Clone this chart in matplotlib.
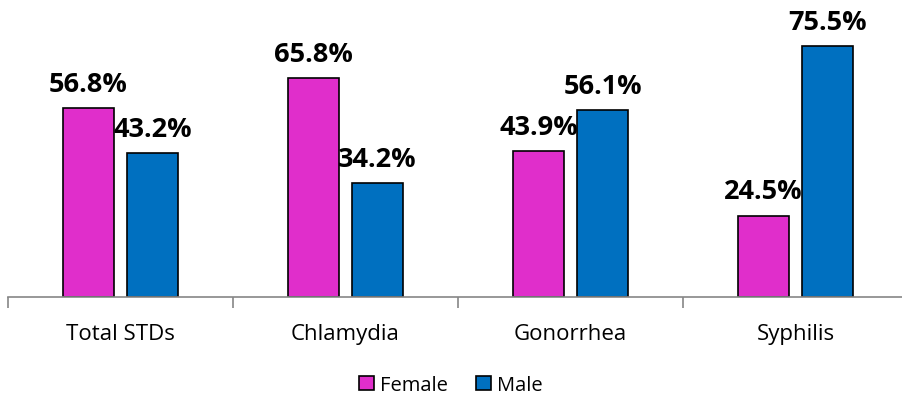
import numpy as np
import matplotlib.pyplot as plt

categories = ['Total STDs', 'Chlamydia', 'Gonorrhea', 'Syphilis']
female = [56.8, 65.8, 43.9, 24.5]
male = [43.2, 34.2, 56.1, 75.5]

plt.rcParams['font.family'] = ['Open Sans', 'DejaVu Sans']

fig = plt.figure(figsize=(9.02, 4.02), dpi=100)
ax = fig.add_axes([8 / 902, 1 - 298 / 402, 900 / 902, 298 / 402])
ax.spines['bottom'].set_clip_on(False)

x = np.arange(len(categories))
w = 0.227
gap = 0.058
b1 = ax.bar(x - (w + gap) / 2, female, w, color='#E02ECB', edgecolor='black', linewidth=1.2, label='Female')
b2 = ax.bar(x + (w + gap) / 2, male, w, color='#0070C0', edgecolor='black', linewidth=1.2, label='Male')

for bars in (b1, b2):
    for rect in bars:
        h = rect.get_height()
        ax.annotate(f'{h:.1f}%', (rect.get_x() + rect.get_width() / 2, h),
                    xytext=(0, 8), textcoords='offset points',
                    ha='center', va='bottom', fontsize=19.5, fontweight='bold')

ax.set_xlim(-0.5, len(categories) - 0.5)
ax.set_ylim(0, 89.6)
ax.set_yticks([])
for s in ['top', 'right', 'left']:
    ax.spines[s].set_visible(False)
ax.spines['bottom'].set_color('#868686')
ax.spines['bottom'].set_linewidth(1.2)

ax.set_xticks(np.arange(-0.5, len(categories), 1.0), minor=True)
ax.set_xticks(x)
ax.set_xticklabels(categories, fontsize=16)
ax.tick_params(axis='x', which='major', length=0, pad=19)
ax.tick_params(axis='x', which='minor', length=8, color='#868686', width=1.2)

fig.legend(loc='center', bbox_to_anchor=(0.5, 1 - 386 / 402), ncol=2, frameon=False,
           fontsize=14.5, handlelength=0.75, handleheight=0.75, handletextpad=0.3, columnspacing=1.4)

fig.savefig('out.png', dpi=100)
